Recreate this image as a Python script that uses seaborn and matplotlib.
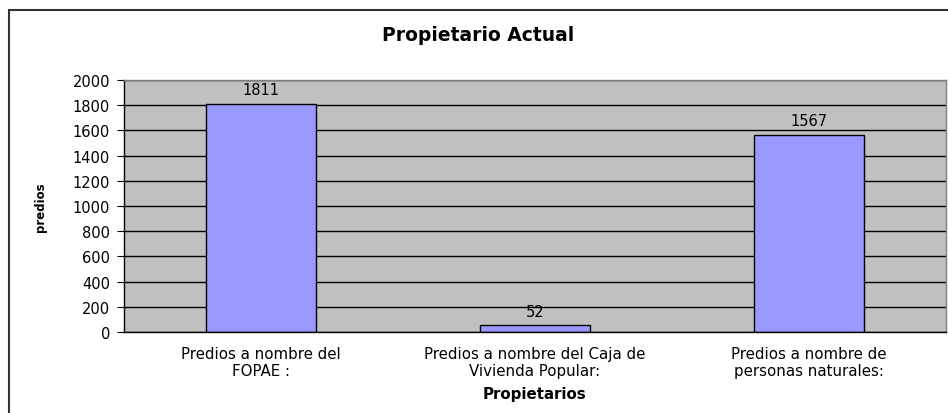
import matplotlib
matplotlib.use("Agg")
import matplotlib.pyplot as plt
import seaborn as sns
import pandas as pd
from matplotlib.patches import Rectangle

# ==========================================
# Data
# ==========================================
categories = [
    "Predios a nombre del\nFOPAE :",
    "Predios a nombre del Caja de\nVivienda Popular:",
    "Predios a nombre de\npersonas naturales:",
]
predios = [1811, 52, 1567]
y_ticks = [0, 200, 400, 600, 800, 1000, 1200, 1400, 1600, 1800, 2000]

df = pd.DataFrame({"Propietarios": categories, "predios": predios})

# ==========================================
# Style
# ==========================================
sns.set_style("white")
plt.rcParams["font.family"] = ["DejaVu Sans"]
plt.rcParams["text.color"] = "black"
plt.rcParams["axes.labelcolor"] = "black"
plt.rcParams["xtick.color"] = "black"
plt.rcParams["ytick.color"] = "black"

fig = plt.figure(figsize=(9.48, 4.14), dpi=100)
ax = fig.add_axes([124 / 948, 1 - 333 / 414, 822 / 948, 252 / 414])

# outer chart border
fig.patches.append(Rectangle((9 / 948, -0.01), 1.0, 1 - 11 / 414 + 0.01,
                             transform=fig.transFigure, fill=False,
                             edgecolor="#333333", linewidth=1.5, zorder=0))

ax.set_facecolor("#C0C0C0")
ax.set_axisbelow(True)

sns.barplot(
    data=df,
    x="Propietarios",
    y="predios",
    color="#9999FF",
    edgecolor="black",
    linewidth=1.0,
    width=0.4,
    saturation=1,
    ax=ax,
)

ax.set_ylim(0, 2000)
ax.set_xlim(-0.5, 2.5)
ax.set_yticks(y_ticks)
ax.yaxis.grid(True, color="black", linewidth=1.0)

for c in ax.containers:
    ax.bar_label(c, padding=5, fontsize=10.5, color="black")

# x ticks at category boundaries, labels centred on bars
ax.set_xticks([-0.5, 0.5, 1.5, 2.5])
ax.set_xticklabels([])
ax.set_xticks([0, 1, 2], minor=True)
ax.set_xticklabels(categories, minor=True, fontsize=10.8, linespacing=1.2)
ax.tick_params(axis="x", which="major", direction="out", length=5, color="black")
ax.tick_params(axis="x", which="minor", length=0, pad=10)
ax.tick_params(axis="y", direction="out", length=5, color="black",
               labelsize=10.5, pad=5, left=True)

for side in ["top", "right"]:
    ax.spines[side].set_color("#808080")
for side in ["left", "bottom"]:
    ax.spines[side].set_color("black")
for s in ax.spines.values():
    s.set_linewidth(1.0)

ax.set_xlabel("Propietarios", fontsize=10.8, fontweight="bold")
ax.xaxis.set_label_coords(0.5, -(395 - 333) / 252)
ax.xaxis.label.set_va("center")
ax.set_ylabel("predios", fontsize=8.5, fontweight="bold")
ax.yaxis.set_label_coords(-(124 - 40) / 822, 0.5)
ax.yaxis.label.set_va("center")

fig.text(478 / 948, 1 - 36 / 414, "Propietario Actual", ha="center", va="center",
         fontsize=13.5, fontweight="bold", color="black")

fig.savefig("out.png", dpi=100)
plt.close(fig)
